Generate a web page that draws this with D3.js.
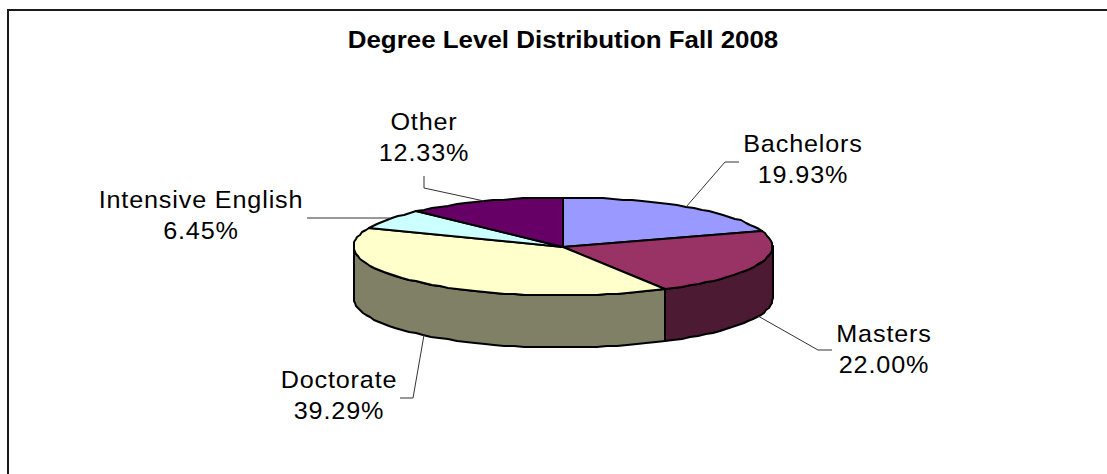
<!DOCTYPE html>
<html>
<head>
<meta charset="utf-8">
<script src="https://cdn.jsdelivr.net/npm/d3@7"></script>
<style>
  html, body { margin: 0; background: #fff; overflow: hidden; }
  text { font-family: "Liberation Sans", Arial, sans-serif; fill: #000; }
</style>
</head>
<body>
<div id="chart"></div>
<script>
var categories = ["Bachelors", "Masters", "Doctorate", "Intensive English", "Other"];
var percents = [19.93, 22.00, 39.29, 6.45, 12.33];
var topColors = ["#9999FF", "#993366", "#FFFFCC", "#CCFFFF", "#660066"];
var wallColors = ["#4D1A33", "#4D1A33", "#808066", "#668080", "#330033"];
var titleText = "Degree Level Distribution Fall 2008";

// label centre x / first baseline, then leader elbow + leader end (layout only)
var labelX = [803, 884, 339, 201, 424];
var labelY = [152, 342, 388, 208, 130];
var leaderEnd = [[739, 162], [832, 350], [400, 398], [307, 218], [424, 176]];
var leaderElbow = [[725, 162], [818, 350], [413, 398], [390, 218], [424, 188]];

var width = 1107, height = 474,
    cx = 563, cy = 246.5, rx = 209.5, ry = 49, depth = 52;

var svg = d3.select("#chart").append("svg")
  .attr("width", width)
  .attr("height", height)
  .style("display", "block");

// frame only has the top and left edge in view
svg.append("path")
  .attr("d", "M8," + height + "V10H" + width)
  .attr("fill", "none")
  .attr("stroke", "#1a1a1a")
  .attr("stroke-width", 2);

svg.append("text")
  .attr("transform", "translate(563,48) scale(1.08,1)")
  .attr("text-anchor", "middle")
  .style("font-size", "24px")
  .style("font-weight", "bold")
  .text(titleText);

// rounded on purpose, the rim of the original is lumpy
var x = d3.scaleLinear().domain([-1, 1]).rangeRound([cx - rx, cx + rx]);
var y = d3.scaleLinear().domain([-1, 1]).rangeRound([cy - ry, cy + ry]);

var slices = d3.pie().sort(null)(percents);

function angles(a0, a1) {
  var n = Math.max(2, Math.ceil((a1 - a0) / 0.05));
  return d3.range(n + 1).map(function(i) { return a0 + (a1 - a0) * i / n; });
}

var wall = d3.area()
  .x(function(a) { return x(Math.sin(a)); })
  .y0(function(a) { return y(-Math.cos(a)); })
  .y1(function(a) { return y(-Math.cos(a)) + depth; });

// front side of the disc
slices.forEach(function(d, i) {
  var a0 = Math.max(d.startAngle, Math.PI / 2),
      a1 = Math.min(d.endAngle, Math.PI * 1.5);
  if (a0 >= a1) return;
  svg.append("path")
    .attr("d", wall(angles(a0, a1)))
    .attr("fill", wallColors[i])
    .attr("stroke", "#000")
    .attr("stroke-width", 2)
    .attr("stroke-linejoin", "round");
});

var rim = d3.line()
  .x(function(p) { return p[0]; })
  .y(function(p) { return p[1]; });

// top of the disc
slices.forEach(function(d, i) {
  var pts = [[x(0), y(0)]].concat(angles(d.startAngle, d.endAngle).map(function(a) {
    return [x(Math.sin(a)), y(-Math.cos(a))];
  }));
  svg.append("path")
    .attr("d", rim(pts) + "Z")
    .attr("fill", topColors[i])
    .attr("stroke", "#000")
    .attr("stroke-width", 2)
    .attr("stroke-linejoin", "round");
});

// leaders start on the rim at the middle of each slice
slices.forEach(function(d, i) {
  var mid = (d.startAngle + d.endAngle) / 2,
      px = x(Math.sin(mid)),
      py = y(-Math.cos(mid));
  if (mid > Math.PI / 2 && mid < Math.PI * 1.5) py += depth;
  svg.append("path")
    .attr("d", rim([leaderEnd[i], leaderElbow[i], [px, py]]))
    .attr("fill", "none")
    .attr("stroke", "#333")
    .attr("stroke-width", 1);
});

var labels = svg.selectAll("g.label")
  .data(categories)
  .enter()
  .append("g")
  .attr("class", "label")
  .attr("transform", function(d, i) {
    return "translate(" + labelX[i] + "," + labelY[i] + ") scale(1.05,1)";
  });

labels.append("text")
  .attr("text-anchor", "middle")
  .style("font-size", "24px")
  .style("letter-spacing", "0.8px")
  .text(function(d) { return d; });

labels.append("text")
  .attr("text-anchor", "middle")
  .attr("y", 31.5)
  .style("font-size", "24px")
  .style("letter-spacing", "0.8px")
  .text(function(d, i) { return d3.format(".2f")(percents[i]) + "%"; });
</script>
</body>
</html>
